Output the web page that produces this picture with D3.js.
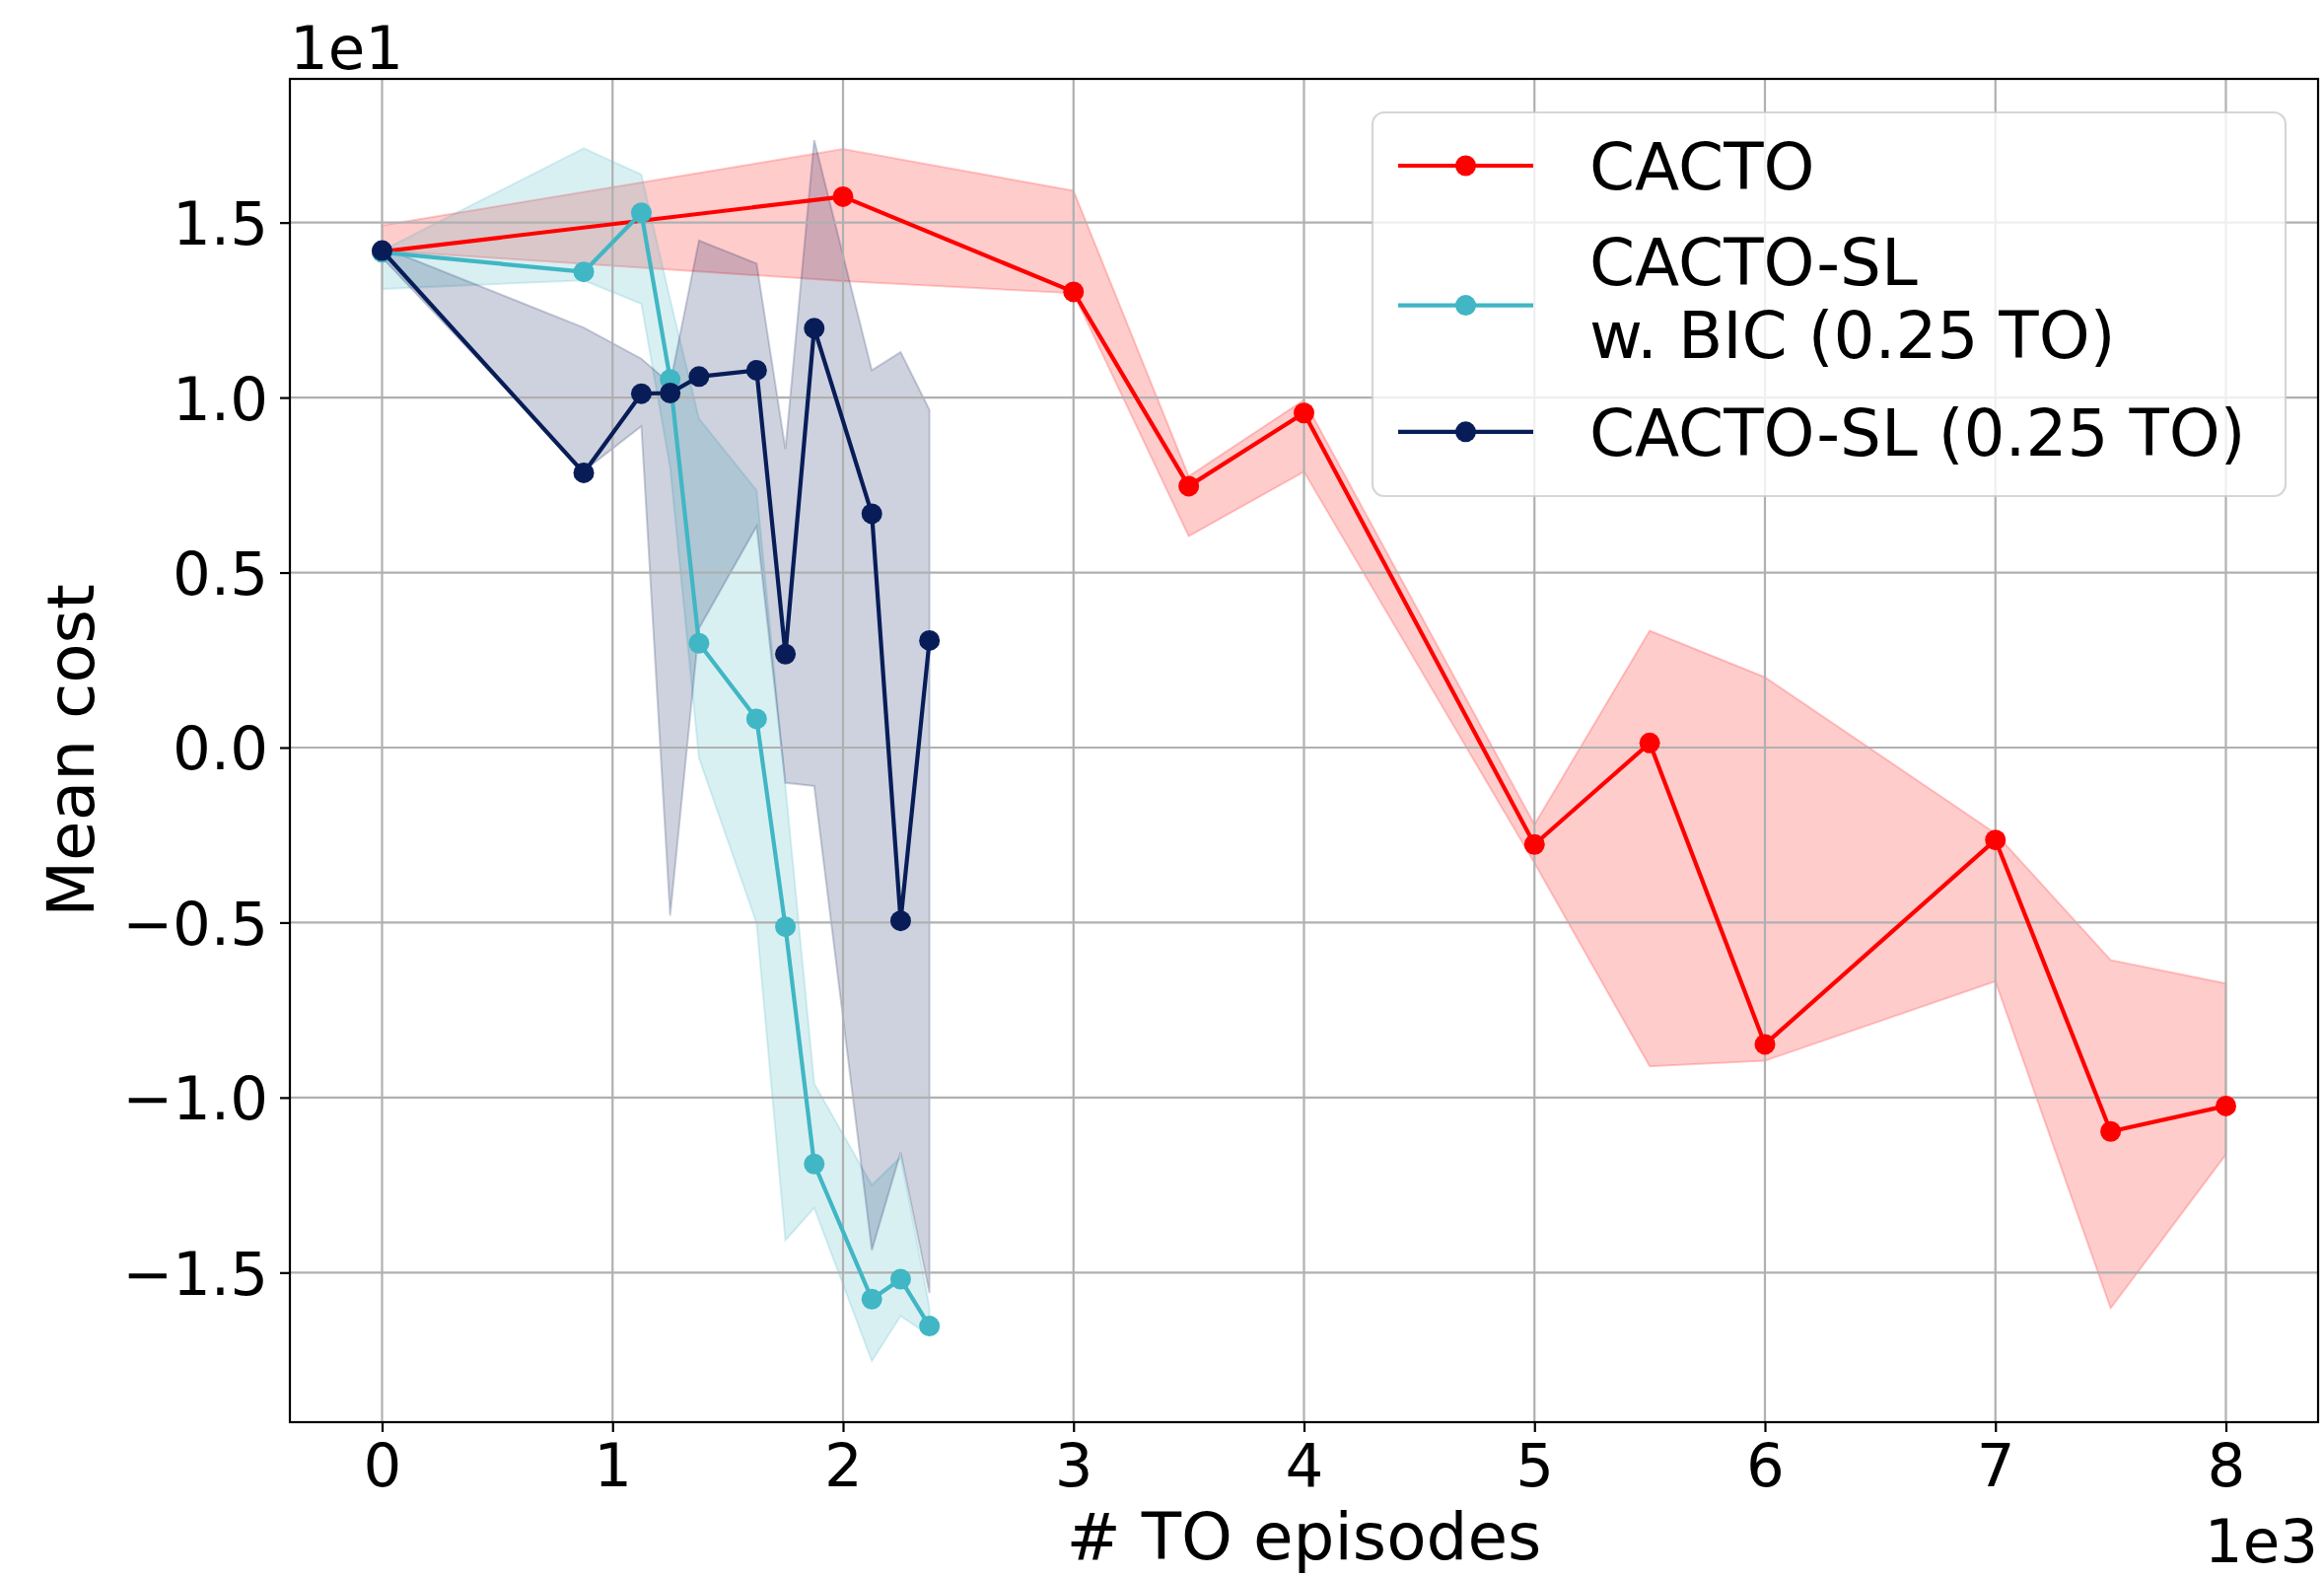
<!DOCTYPE html>
<html lang="en">
<head>
<meta charset="utf-8">
<script src="https://cdnjs.cloudflare.com/ajax/libs/d3/7.8.5/d3.min.js"></script>
<style>
  html, body { margin: 0; padding: 0; background: #ffffff; }
  svg { display: block; font-family: "DejaVu Sans", sans-serif; }
</style>
</head>
<body>
<svg id="chart" width="2357" height="1599"></svg>

<script>
// ---- data (cost in real units, plotted with the 1e1 offset) ----
var cactoX     = [0, 2000, 3000, 3500, 4000, 5000, 5500, 6000, 7000, 7500, 8000];
var cactoMean  = [14.17, 15.74, 13.02, 7.47, 9.56, -2.77, 0.13, -8.48, -2.64, -10.97, -10.24];
var cactoUpper = [14.92, 17.10, 15.91, 7.75, 9.93, -2.20, 3.34, 2.01, -2.45, -6.07, -6.74];
var cactoLower = [14.20, 13.33, 12.98, 6.04, 7.88, -3.30, -9.11, -8.95, -6.68, -16.02, -11.63];

var slX = [0, 875, 1125, 1250, 1375, 1625, 1750, 1875, 2125, 2250, 2375];

var bicMean  = [14.15, 13.59, 15.28, 10.52, 2.98, 0.82, -5.12, -11.90, -15.76, -15.19, -16.53];
var bicUpper = [14.20, 17.12, 16.37, 12.80, 9.40, 7.35, -1.10, -9.60, -12.50, -11.70, -16.00];
var bicLower = [13.10, 13.35, 12.68, 8.00, -0.30, -5.02, -14.08, -13.15, -17.53, -16.24, -16.80];

var slMean  = [14.20, 7.85, 10.11, 10.13, 10.60, 10.78, 2.67, 11.98, 6.68, -4.95, 3.06];
var slUpper = [14.30, 12.00, 11.11, 10.40, 14.49, 13.83, 8.53, 17.36, 10.78, 11.30, 9.65];
var slLower = [14.00, 7.90, 9.18, -4.80, 3.40, 6.32, -1.01, -1.10, -14.36, -11.57, -15.59];

var seriesNames  = ["CACTO", "CACTO-SL\nw. BIC (0.25 TO)", "CACTO-SL (0.25 TO)"];
var seriesColors = ["#ff0000", "#41b6c4", "#081d58"];

var xTicks = [0, 1000, 2000, 3000, 4000, 5000, 6000, 7000, 8000];
var yTicks = [-15, -10, -5, 0, 5, 10, 15];

// ---- layout ----
var W = 2357, H = 1599;
var plot = { left: 294, right: 2351, top: 80, bottom: 1442 };
var tickFont = 61, labelFont = 66, legendFont = 66;
var markerR = 10.5;

var series = [
  { x: cactoX, mean: cactoMean, upper: cactoUpper, lower: cactoLower },
  { x: slX, mean: bicMean, upper: bicUpper, lower: bicLower },
  { x: slX, mean: slMean, upper: slUpper, lower: slLower }
];

// matplotlib style 5% margins
function padded(ext) {
  var d = ext[1] - ext[0];
  return [ext[0] - 0.05 * d, ext[1] + 0.05 * d];
}
var allX = [].concat(cactoX, slX);
var allY = [].concat(cactoUpper, cactoLower, bicUpper, bicLower, slUpper, slLower);

var x = d3.scaleLinear().domain(padded(d3.extent(allX))).range([plot.left, plot.right]);
var y = d3.scaleLinear().domain(padded(d3.extent(allY))).range([plot.bottom, plot.top]);

var svg = d3.select("#chart");
svg.append("rect").attr("width", W).attr("height", H).attr("fill", "#ffffff");

// bands
var area = d3.area()
  .x(function(d) { return x(d.x); })
  .y0(function(d) { return y(d.lo); })
  .y1(function(d) { return y(d.hi); });

series.forEach(function(s, i) {
  var pts = s.x.map(function(v, j) { return { x: v, lo: s.lower[j], hi: s.upper[j] }; });
  svg.append("path")
    .attr("d", area(pts))
    .attr("fill", seriesColors[i])
    .attr("fill-opacity", 0.2)
    .attr("stroke", seriesColors[i])
    .attr("stroke-opacity", 0.2)
    .attr("stroke-width", 2);
});

// grid
var grid = svg.append("g").attr("stroke", "#b0b0b0").attr("stroke-width", 2.2);
xTicks.forEach(function(t) {
  grid.append("line").attr("x1", x(t)).attr("x2", x(t)).attr("y1", plot.top).attr("y2", plot.bottom);
});
yTicks.forEach(function(t) {
  grid.append("line").attr("x1", plot.left).attr("x2", plot.right).attr("y1", y(t)).attr("y2", y(t));
});

// lines + markers
var line = d3.line().x(function(d) { return x(d[0]); }).y(function(d) { return y(d[1]); });

series.forEach(function(s, i) {
  var pts = s.x.map(function(v, j) { return [v, s.mean[j]]; });
  svg.append("path")
    .attr("d", line(pts))
    .attr("fill", "none")
    .attr("stroke", seriesColors[i])
    .attr("stroke-width", 4.2)
    .attr("stroke-linejoin", "round");
  svg.selectAll(null).data(pts).enter().append("circle")
    .attr("cx", function(d) { return x(d[0]); })
    .attr("cy", function(d) { return y(d[1]); })
    .attr("r", markerR)
    .attr("fill", seriesColors[i]);
});

// axes
var xAxis = d3.axisBottom(x).tickValues(xTicks).tickSize(10).tickPadding(12)
  .tickFormat(function(d) { return d3.format("d")(d / 1000); });
var yAxis = d3.axisLeft(y).tickValues(yTicks).tickSize(10).tickPadding(12)
  .tickFormat(function(d) { return (d / 10).toFixed(1).replace("-", "\u2212"); });

var gx = svg.append("g").attr("transform", "translate(0," + plot.bottom + ")").call(xAxis);
var gy = svg.append("g").attr("transform", "translate(" + plot.left + ",0)").call(yAxis);
[gx, gy].forEach(function(g) {
  g.select(".domain").remove();
  g.selectAll(".tick line").attr("stroke", "#000").attr("stroke-width", 2.2);
  g.selectAll(".tick text").attr("fill", "#000")
    .style("font-family", "DejaVu Sans").style("font-size", tickFont + "px");
});
gy.selectAll(".tick text").attr("dy", "0.36em");

// frame
svg.append("rect")
  .attr("x", plot.left).attr("y", plot.top)
  .attr("width", plot.right - plot.left).attr("height", plot.bottom - plot.top)
  .attr("fill", "none").attr("stroke", "#000").attr("stroke-width", 2.2);

// offset labels
svg.append("text").attr("x", plot.left).attr("y", 70)
  .style("font-size", tickFont + "px").text("1e1");
svg.append("text").attr("x", plot.right).attr("y", 1584).attr("text-anchor", "end")
  .style("font-size", tickFont + "px").text("1e3");

// axis labels
svg.append("text")
  .attr("x", (plot.left + plot.right) / 2).attr("y", 1581)
  .attr("text-anchor", "middle").style("font-size", labelFont + "px")
  .text("# TO episodes");
svg.append("text")
  .attr("transform", "translate(95," + (plot.top + plot.bottom) / 2 + ") rotate(-90)")
  .attr("text-anchor", "middle").style("font-size", labelFont + "px")
  .text("Mean cost");

// legend
var leg = svg.append("g");
leg.append("rect")
  .attr("x", 1392).attr("y", 114).attr("width", 926).attr("height", 389)
  .attr("rx", 12).attr("ry", 12)
  .attr("fill", "#ffffff").attr("fill-opacity", 0.8)
  .attr("stroke", "#cccccc").attr("stroke-opacity", 0.8).attr("stroke-width", 2.2);

var rowY = [168, 309.6, 437.8];
seriesNames.forEach(function(name, i) {
  var cy = rowY[i];
  leg.append("line").attr("x1", 1418).attr("x2", 1555).attr("y1", cy).attr("y2", cy)
    .attr("stroke", seriesColors[i]).attr("stroke-width", 4.2);
  leg.append("circle").attr("cx", 1486.5).attr("cy", cy).attr("r", markerR).attr("fill", seriesColors[i]);
  var lines = name.split("\n");
  var first = cy + 24 - (lines.length - 1) * 44.5;
  var t = leg.append("text").attr("x", 1612).style("font-size", legendFont + "px");
  lines.forEach(function(l, k) {
    t.append("tspan").attr("x", 1612).attr("y", first + k * 73.7).text(l);
  });
});
</script>
</body>
</html>
